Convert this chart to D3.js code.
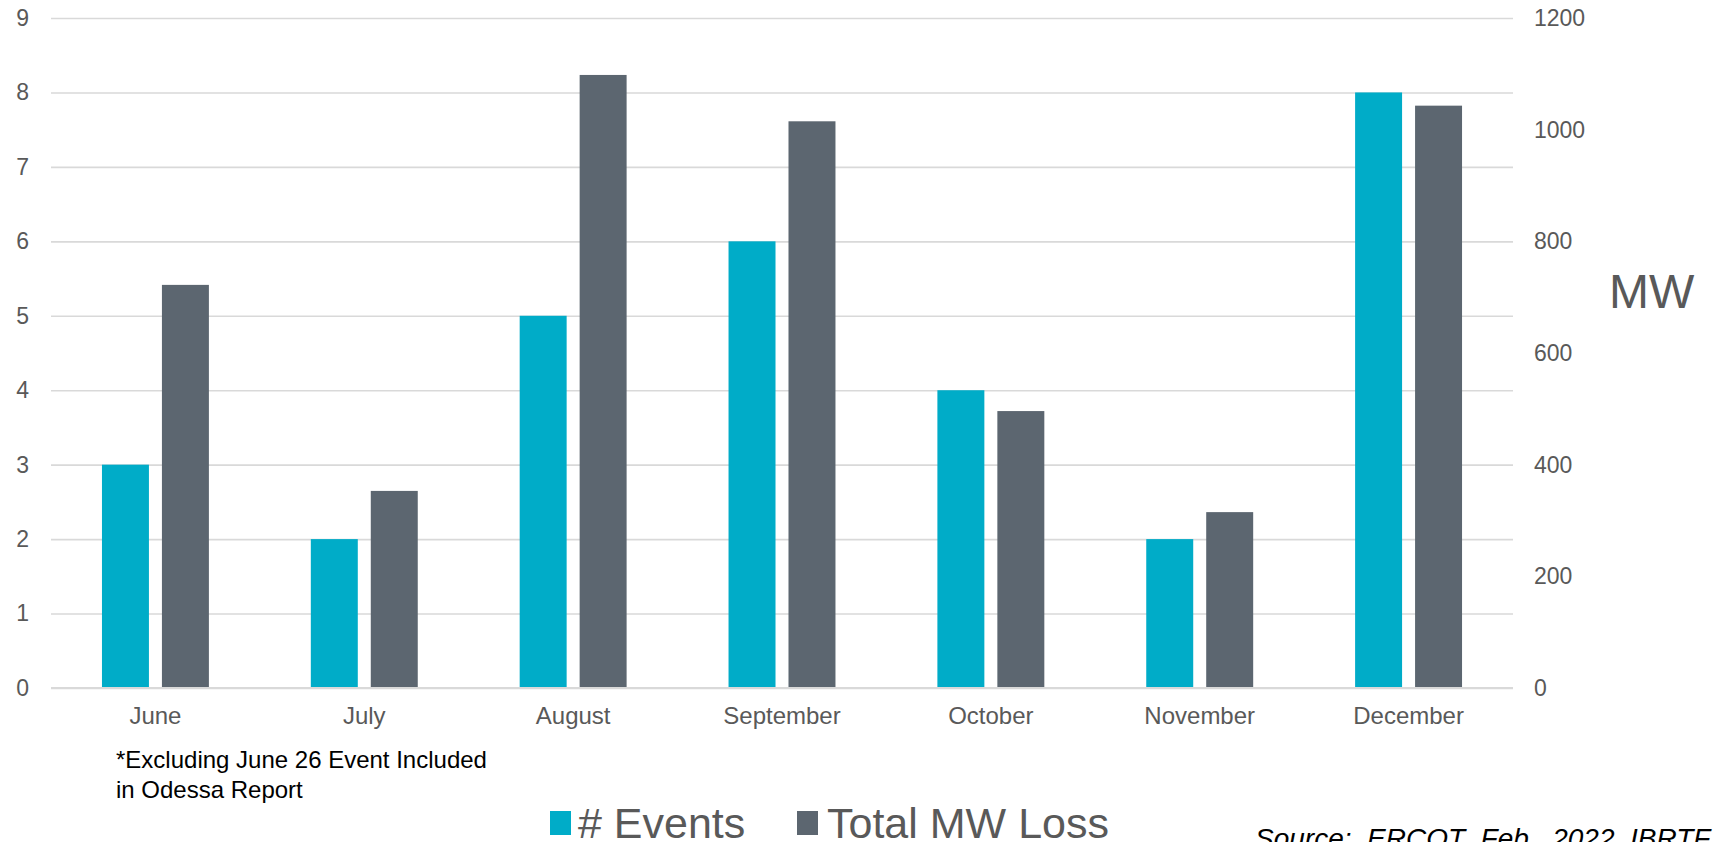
<!DOCTYPE html>
<html>
<head>
<meta charset="utf-8">
<script src="https://cdn.jsdelivr.net/npm/d3@7"></script>
<style>
  html, body { margin: 0; padding: 0; background: #fff; overflow: hidden; }
  svg { display: block; font-family: "Liberation Sans", Arial, sans-serif; }
</style>
</head>
<body>
<svg id="chart" width="1719" height="842"></svg>
<script>
const categories = ["June", "July", "August", "September", "October", "November", "December"];
const seriesNames = ["# Events", "Total MW Loss"];
const eventsValues = [3, 2, 5, 6, 4, 2, 8];
const mwValues = [722, 353, 1098, 1015, 496, 315, 1043];
const leftTicks = [0, 1, 2, 3, 4, 5, 6, 7, 8, 9];
const rightTicks = [0, 200, 400, 600, 800, 1000, 1200];
const colors = ["#00ACC8", "#5C6670"];
const footnoteLines = ["*Excluding June 26 Event Included", "in Odessa Report"];
const sourceText = "Source:  ERCOT  Feb.  2022  IBRTF";
const rightAxisTitle = "MW";

(function () {
const svg = d3.select("#chart");
const pLeft = 51, pRight = 1513, pTop = 18, pBottom = 688;
const textColor = "#595959";

const yL = d3.scaleLinear().domain([0, 9]).range([pBottom, pTop]);
const yR = d3.scaleLinear().domain([0, 1200]).range([pBottom, pTop]);
const x0 = d3.scaleBand().domain(categories).range([pLeft, pRight]).paddingInner(0.488).paddingOuter(0.244);
const x1 = d3.scaleBand().domain(seriesNames).range([0, x0.bandwidth()]).paddingInner(0.2167).paddingOuter(0);

// gridlines
const grid = svg.append("g").attr("transform", `translate(${pLeft},0)`)
  .call(d3.axisLeft(yL).tickValues(leftTicks).tickSize(-(pRight - pLeft)).tickFormat(""));
grid.select(".domain").remove();
grid.selectAll("line").attr("stroke", "#d9d9d9").attr("stroke-width", 1.6);

// bars
const data = categories.map((c, i) => ({cat: c, vals: [
  {name: seriesNames[0], v: eventsValues[i], y: yL(eventsValues[i])},
  {name: seriesNames[1], v: mwValues[i], y: yR(mwValues[i])}
]}));
const groups = svg.append("g").selectAll("g").data(data).join("g")
  .attr("transform", d => `translate(${x0(d.cat)},0)`);
groups.selectAll("rect").data(d => d.vals).join("rect")
  .attr("x", d => x1(d.name))
  .attr("width", x1.bandwidth())
  .attr("y", d => d.y)
  .attr("height", d => pBottom - d.y)
  .attr("fill", (d, i) => colors[i]);

// baseline
svg.append("line").attr("x1", pLeft).attr("x2", pRight).attr("y1", pBottom).attr("y2", pBottom)
  .attr("stroke", "#d9d9d9").attr("stroke-width", 2);

// left axis
const ax = svg.append("g").attr("transform", `translate(29,0)`)
  .call(d3.axisLeft(yL).tickValues(leftTicks).tickSize(0).tickPadding(0).tickFormat(d3.format("d")));
ax.select(".domain").remove();
ax.selectAll("text").attr("font-size", 23).attr("fill", textColor).attr("font-family", "Liberation Sans, Arial");

// right axis
const axR = svg.append("g").attr("transform", `translate(1534,0)`)
  .call(d3.axisRight(yR).tickValues(rightTicks).tickSize(0).tickPadding(0).tickFormat(d3.format("d")));
axR.select(".domain").remove();
axR.selectAll("text").attr("font-size", 23).attr("fill", textColor).attr("font-family", "Liberation Sans, Arial");

// x axis
const axX = svg.append("g").attr("transform", `translate(0,${pBottom})`)
  .call(d3.axisBottom(x0).tickSize(0).tickPadding(19));
axX.select(".domain").remove();
axX.selectAll("text").attr("font-size", 24).attr("fill", textColor).attr("font-family", "Liberation Sans, Arial");

// right axis title
svg.append("text").attr("x", 1609).attr("y", 308).attr("font-size", 48).attr("fill", textColor).text(rightAxisTitle);

// footnote
footnoteLines.forEach((t, i) => {
  svg.append("text").attr("x", 116).attr("y", 768 + i * 30).attr("font-size", 24).attr("fill", "#000").text(t);
});

// legend
const legendItems = [
  {name: seriesNames[0], color: colors[0], sx: 550, tx: 578},
  {name: seriesNames[1], color: colors[1], sx: 797, tx: 827}
];
legendItems.forEach(l => {
  svg.append("rect").attr("x", l.sx).attr("y", 811).attr("width", 21).attr("height", 24).attr("fill", l.color);
  svg.append("text").attr("x", l.tx).attr("y", 838).attr("font-size", 43).attr("fill", textColor).text(l.name);
});

// source
svg.append("text").attr("x", 1255).attr("y", 848).attr("font-size", 28).attr("font-style", "italic")
  .attr("fill", "#000").style("white-space", "pre").text(sourceText);
})();
</script>
</body>
</html>
